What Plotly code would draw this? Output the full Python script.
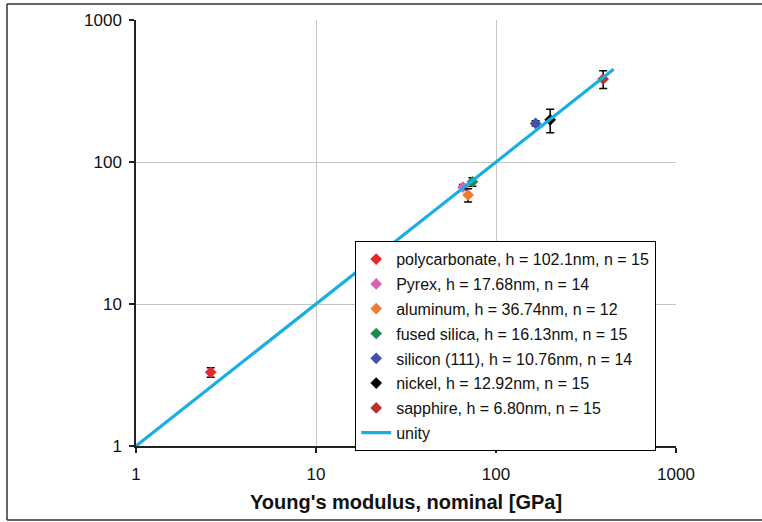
import plotly.graph_objects as go

# ---- data ----
materials = ["polycarbonate", "Pyrex", "aluminum", "fused silica", "silicon (111)", "nickel", "sapphire"]
thickness = ["102.1nm", "17.68nm", "36.74nm", "16.13nm", "10.76nm", "12.92nm", "6.80nm"]
counts = [15, 14, 12, 15, 14, 15, 15]
e_nominal = [2.6, 65.5, 70.0, 74.0, 166.0, 200.0, 394.0]
e_measured = [3.3, 66.5, 58.6, 72.6, 187.0, 198.0, 384.0]
e_error = [0.25, 3.0, 6.3, 5.0, 8.0, 37.0, 55.0]
colors = ["#e8262b", "#d862b4", "#f27a2e", "#1f8b4c", "#4053a8", "#000000", "#b8332b"]
unity_x = [1, 450]
unity_y = [1, 450]
tick_vals = [1, 10, 100, 1000]
tick_text = ["1", "10", "100", "1000"]

W, H = 762, 522
ML, MR, MT, MB = 136, 86, 20, 76
PW, PH = W - ML - MR, H - MT - MB

FONT = "Liberation Sans, Arial, sans-serif"

fig = go.Figure()
for i, m in enumerate(materials):
    fig.add_trace(go.Scatter(
        x=[e_nominal[i]], y=[e_measured[i]],
        mode="markers",
        name=f"{m}, h = {thickness[i]}, n = {counts[i]}",
        legendgroup=f"g{i}",
        marker=dict(symbol="diamond", size=9, color=colors[i]),
        error_y=dict(type="data", array=[e_error[i]], visible=True,
                     color="#000000", thickness=1.5, width=4),
    ))

fig.add_trace(go.Scatter(
    x=unity_x, y=unity_y, mode="lines", name="unity", legendgroup="g7",
    line=dict(color="#18aee3", width=3.2),
))

axis_common = dict(
    type="log", range=[0, 3], tickvals=tick_vals, ticktext=tick_text,
    showgrid=True, gridcolor="#c4c4c4", gridwidth=1.2,
    showline=True, linecolor="#222222", linewidth=1.5,
    ticks="outside", ticklen=5, tickwidth=1.5, tickcolor="#222222",
    tickfont=dict(family=FONT, size=17, color="#111111"),
    zeroline=False, mirror=False,
)

fig.update_layout(
    width=W, height=H,
    margin=dict(l=ML, r=MR, t=MT, b=MB, pad=0),
    paper_bgcolor="white", plot_bgcolor="white",
    font=dict(family=FONT, color="#111111"),
    showlegend=True,
    legend=dict(
        x=(355 - ML) / PW, y=(H - MB - 241) / PH, xanchor="left", yanchor="top",
        bordercolor="#000000", borderwidth=1.2, bgcolor="white",
        font=dict(family=FONT, size=16, color="#111111"),
        traceorder="grouped", tracegroupgap=1,
    ),
    xaxis=dict(**axis_common,
               title=dict(text="<b>Young's modulus, nominal [GPa]</b>",
                          font=dict(family=FONT, size=20, color="#111111"),
                          standoff=12)),
    yaxis=dict(**axis_common),
)
fig.update_xaxes(ticklabelstandoff=7)
fig.update_yaxes(ticklabelstandoff=4)

# frame around the whole figure (top, left, bottom lines)
def px_x(p):
    return (p - ML) / PW

def px_y(p):
    return (H - MB - p) / PH

frame = dict(type="line", xref="paper", yref="paper",
             line=dict(color="#333333", width=1.5), layer="above")
fig.add_shape(x0=px_x(7), x1=px_x(763), y0=px_y(4), y1=px_y(4), **frame)
fig.add_shape(x0=px_x(7), x1=px_x(7), y0=px_y(4), y1=px_y(520), **frame)
fig.add_shape(x0=px_x(7), x1=px_x(763), y0=px_y(520), y1=px_y(520), **frame)

fig.write_html("out.html")
